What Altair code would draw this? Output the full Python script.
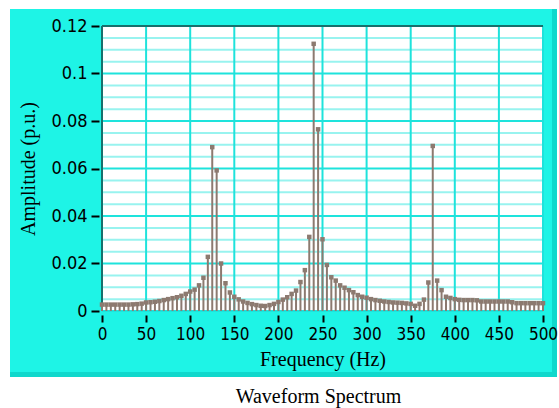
import altair as alt
import pandas as pd

# ---- data ----
freqs = list(range(0, 505, 5))  # Hz, 5 Hz bins
amps = [
    0.0027, 0.0027, 0.0027, 0.0027, 0.0027, 0.0027, 0.0027, 0.0028, 0.0029, 0.0031,   # 0-45
    0.0036, 0.0037, 0.0039, 0.0042, 0.0046, 0.0050, 0.0054, 0.0058, 0.0064, 0.0072,   # 50-95
    0.0082, 0.0090, 0.0108, 0.0140, 0.0228, 0.0690, 0.0592, 0.0200, 0.0117, 0.0078,   # 100-145
    0.0060, 0.0049, 0.0040, 0.0034, 0.0029, 0.0025, 0.0022, 0.0021, 0.0025, 0.0030,   # 150-195
    0.0038, 0.0048, 0.0058, 0.0072, 0.0086, 0.0122, 0.0172, 0.0312, 0.1125, 0.0765,   # 200-245
    0.0302, 0.0194, 0.0142, 0.0128, 0.0108, 0.0098, 0.0088, 0.0079, 0.0067, 0.0060,   # 250-295
    0.0056, 0.0050, 0.0046, 0.0043, 0.0040, 0.0038, 0.0036, 0.0035, 0.0034, 0.0032,   # 300-345
    0.0030, 0.0022, 0.0030, 0.0048, 0.0120, 0.0695, 0.0128, 0.0088, 0.0060, 0.0055,   # 350-395
    0.0050, 0.0047, 0.0046, 0.0046, 0.0046, 0.0045, 0.0040, 0.0040, 0.0040, 0.0040,   # 400-445
    0.0040, 0.0040, 0.0040, 0.0037, 0.0033, 0.0033, 0.0033, 0.0033, 0.0033, 0.0033,   # 450-495
    0.0033,                                                                           # 500
]
x_ticks = [0, 50, 100, 150, 200, 250, 300, 350, 400, 450, 500]
x_grid = [50, 100, 150, 200, 250, 300, 350, 400, 450, 500]
y_ticks = [0, 0.02, 0.04, 0.06, 0.08, 0.1, 0.12]
y_minor = [0.005, 0.01, 0.015, 0.025, 0.03, 0.035, 0.045, 0.05, 0.055,
           0.065, 0.07, 0.075, 0.085, 0.09, 0.095, 0.105, 0.11, 0.115]

x_title = "Frequency (Hz)"
y_title = "Amplitude (p.u.)"
chart_title = "Waveform Spectrum"

# ---- style ----
W, H = 441, 285
CYAN = "#1ef4e6"
CYAN_DARK = "#10d8cc"
MAJOR = "#1ee3dc"
MINOR = "#98f3ef"
FRAME = "#17706c"
STEM = "#8c7a70"
SERIF = "Liberation Serif, Times New Roman, serif"
NARROW = "DejaVu Sans Condensed, Liberation Sans Narrow, Arial Narrow, sans-serif"

df = pd.DataFrame({"f": freqs, "a": amps})
one = pd.DataFrame({"k": [0]})
xs = alt.Scale(domain=[0, 500], nice=False, zero=False)
ys = alt.Scale(domain=[0, 0.12], nice=False)

x_axis = alt.Axis(values=x_ticks, title=x_title, grid=False, domain=False,
                  tickColor="black", tickWidth=2, tickSize=7, offset=4,
                  labelFont=NARROW, labelFontSize=17, labelColor="black", labelPadding=4,
                  labelOverlap=False, labelFlush=False,
                  titleFont=SERIF, titleFontSize=20, titleFontWeight="normal",
                  titleColor="black", titlePadding=7, zindex=2)
y_axis = alt.Axis(values=y_ticks, format=".2~f", title=y_title, grid=False, domain=False,
                  tickColor="black", tickWidth=2, tickSize=8, offset=3,
                  labelFont=NARROW, labelFontSize=18, labelColor="black", labelPadding=4,
                  labelOverlap=False, labelFlush=False,
                  titleFont=SERIF, titleFontSize=20, titleFontWeight="normal",
                  titleColor="black", titlePadding=12, zindex=2)

panel = alt.Chart(one).mark_rect(color=CYAN).encode(
    x=alt.value(-92), x2=alt.value(455), y=alt.value(-17), y2=alt.value(351))
bev_r = alt.Chart(one).mark_rect(color=CYAN_DARK).encode(
    x=alt.value(450), x2=alt.value(455), y=alt.value(-17), y2=alt.value(351))
bev_b = alt.Chart(one).mark_rect(color=CYAN_DARK).encode(
    x=alt.value(-92), x2=alt.value(455), y=alt.value(346), y2=alt.value(351))
white = alt.Chart(one).mark_rect(color="white").encode(
    x=alt.value(0), x2=alt.value(W), y=alt.value(0), y2=alt.value(H))

minor = alt.Chart(pd.DataFrame({"a": y_minor})).mark_rule(color=MINOR, strokeWidth=2).encode(
    y=alt.Y("a:Q", scale=ys, axis=y_axis), x=alt.value(0), x2=alt.value(W))
major_y = alt.Chart(pd.DataFrame({"a": y_ticks})).mark_rule(color=MAJOR, strokeWidth=2).encode(
    y=alt.Y("a:Q", scale=ys, axis=y_axis), x=alt.value(0), x2=alt.value(W))
major_x = alt.Chart(pd.DataFrame({"f": x_grid})).mark_rule(color=MAJOR, strokeWidth=2).encode(
    x=alt.X("f:Q", scale=xs, axis=x_axis), y=alt.value(0), y2=alt.value(H))
frame_l = alt.Chart(one).mark_rule(color=FRAME, strokeWidth=2).encode(
    x=alt.value(0), y=alt.value(0), y2=alt.value(H))
frame_t = alt.Chart(one).mark_rule(color=FRAME, strokeWidth=2).encode(
    y=alt.value(0), x=alt.value(0), x2=alt.value(W))

stems = alt.Chart(df).mark_rule(color=STEM, strokeWidth=2).encode(
    x=alt.X("f:Q", scale=xs, axis=x_axis),
    y=alt.Y("a:Q", scale=ys, axis=y_axis),
    y2=alt.datum(0))
marks = alt.Chart(df).mark_square(size=20, color=STEM, opacity=1).encode(
    x=alt.X("f:Q", scale=xs, axis=x_axis),
    y=alt.Y("a:Q", scale=ys, axis=y_axis))

chart = alt.layer(panel, bev_r, bev_b, white, minor, major_y, major_x,
                  frame_l, frame_t, stems, marks).properties(
    width=W, height=H,
    padding={"left": 102, "top": 26, "right": 16, "bottom": 97},
    autosize=alt.AutoSizeParams(type="none"),
    background="white",
    title=alt.Title(chart_title, orient="bottom", frame="group", offset=10,
                    font=SERIF, fontSize=20, fontWeight="normal", color="black", dx=-4),
).configure_view(stroke=None)

chart.save("out.html", embed_options={"renderer": "svg", "actions": False})
